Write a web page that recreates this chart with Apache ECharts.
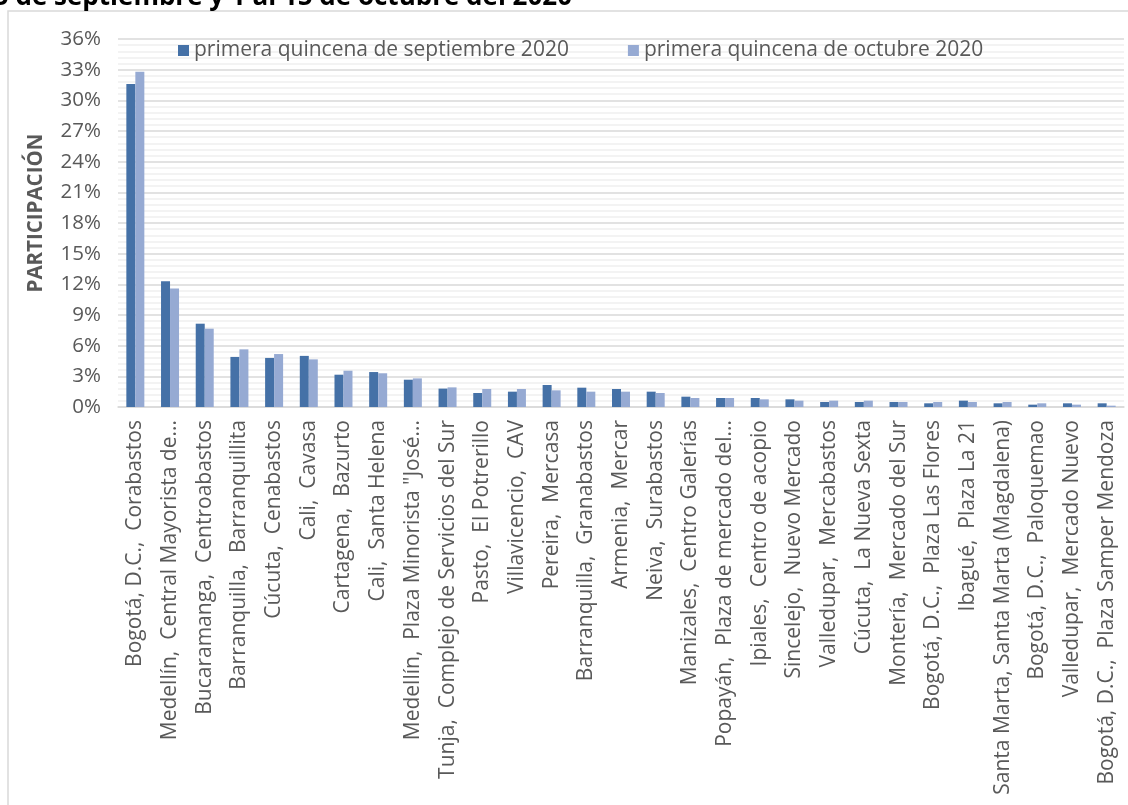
<!DOCTYPE html>
<html>
<head>
<meta charset="utf-8">
<script src="https://cdn.jsdelivr.net/npm/echarts@6/dist/echarts.min.js"></script>
<style>html,body{margin:0;padding:0;background:#fff;}#c{width:1128px;height:805px;}</style>
</head>
<body>
<div id="c"></div>
<script>
const categories = [
  'Bogotá, D.C.,  Corabastos',
  'Medellín,  Central Mayorista de...',
  'Bucaramanga,  Centroabastos',
  'Barranquilla,  Barranquillita',
  'Cúcuta,  Cenabastos',
  'Cali,  Cavasa',
  'Cartagena,  Bazurto',
  'Cali,  Santa Helena',
  'Medellín,  Plaza Minorista "José...',
  'Tunja,  Complejo de Servicios del Sur',
  'Pasto,  El Potrerillo',
  'Villavicencio,  CAV',
  'Pereira,  Mercasa',
  'Barranquilla,  Granabastos',
  'Armenia,  Mercar',
  'Neiva,  Surabastos',
  'Manizales,  Centro Galerías',
  'Popayán,  Plaza de mercado del...',
  'Ipiales,  Centro de acopio',
  'Sincelejo,  Nuevo Mercado',
  'Valledupar,  Mercabastos',
  'Cúcuta,  La Nueva Sexta',
  'Montería,  Mercado del Sur',
  'Bogotá, D.C.,  Plaza Las Flores',
  'Ibagué,  Plaza La 21',
  'Santa Marta, Santa Marta (Magdalena)',
  'Bogotá, D.C.,  Paloquemao',
  'Valledupar,  Mercado Nuevo',
  'Bogotá, D.C.,  Plaza Samper Mendoza'
];
const seriesNames = ['primera quincena de septiembre 2020', 'primera quincena de octubre 2020'];
const septiembre = [31.6, 12.3, 8.15, 4.9, 4.8, 5.0, 3.16, 3.42, 2.67, 1.8, 1.37, 1.5, 2.15, 1.89, 1.76, 1.5, 1.01, 0.88, 0.88, 0.75, 0.49, 0.49, 0.49, 0.36, 0.62, 0.36, 0.23, 0.36, 0.36];
const octubre = [32.8, 11.6, 7.66, 5.64, 5.18, 4.66, 3.55, 3.3, 2.8, 1.92, 1.76, 1.76, 1.63, 1.5, 1.5, 1.37, 0.88, 0.88, 0.75, 0.62, 0.62, 0.62, 0.49, 0.49, 0.49, 0.49, 0.36, 0.23, 0.13];
const yTicks = ['0%','3%','6%','9%','12%','15%','18%','21%','24%','27%','30%','33%','36%'];
const titleText = '15 de septiembre y 1 al 15 de octubre del 2020';
const yAxisTitle = 'PARTICIPACIÓN';

const chart = echarts.init(document.getElementById('c'), null, {renderer: 'canvas'});
const font = '"Open Sans", "Noto Sans", sans-serif';
chart.setOption({
  animation: false,
  backgroundColor: '#ffffff',
  textStyle: {fontFamily: font},
  title: {
    text: titleText,
    left: -21, top: -15, padding: 0,
    textStyle: {fontFamily: font, fontWeight: 'bold', fontSize: 26, color: '#000'}
  },
  graphic: [
    {
      type: 'rect', shape: {x: 8, y: 11, width: 1130, height: 800},
      style: {fill: 'none', stroke: '#d9d9d9', lineWidth: 1.5}, silent: true, z: -1
    },
    {
      type: 'text', x: 36, y: 213, rotation: Math.PI / 2,
      style: {text: yAxisTitle, fontFamily: font, fontWeight: 'bold', fontSize: 20.5, fill: '#595959',
              textAlign: 'center', textVerticalAlign: 'middle'},
      silent: true
    }
  ],
  legend: {
    top: 35, left: 173,
    itemWidth: 11, itemHeight: 11, itemGap: 59,
    icon: 'rect',
    textStyle: {fontFamily: font, fontSize: 21, color: '#595959'},
    data: seriesNames
  },
  grid: {left: 118, right: 4, top: 39, bottom: 398, containLabel: false},
  xAxis: {
    type: 'category',
    data: categories,
    axisLine: {lineStyle: {color: '#d9d9d9', width: 1.5}},
    axisTick: {show: false},
    axisLabel: {rotate: 90, interval: 0, margin: 13, fontFamily: font, fontSize: 21, color: '#595959'}
  },
  yAxis: {
    type: 'value', min: 0, max: 36, interval: 3,
    axisLine: {show: false}, axisTick: {show: false},
    axisLabel: {
      margin: 17, fontFamily: font, fontSize: 20.5, color: '#595959',
      formatter: function (v) { return yTicks[Math.round(v / 3)] || ''; }
    },
    splitLine: {lineStyle: {color: '#d9d9d9', width: 1.5}},
    minorTick: {show: false, splitNumber: 5},
    minorSplitLine: {show: true, lineStyle: {color: '#f0f0f0', width: 1.5}}
  },
  series: [
    {name: seriesNames[0], type: 'bar', data: septiembre, barWidth: 9, barGap: '0%',
     itemStyle: {color: '#4571A7'}},
    {name: seriesNames[1], type: 'bar', data: octubre, barWidth: 9,
     itemStyle: {color: '#96AAD3'}}
  ]
});
</script>
</body>
</html>
